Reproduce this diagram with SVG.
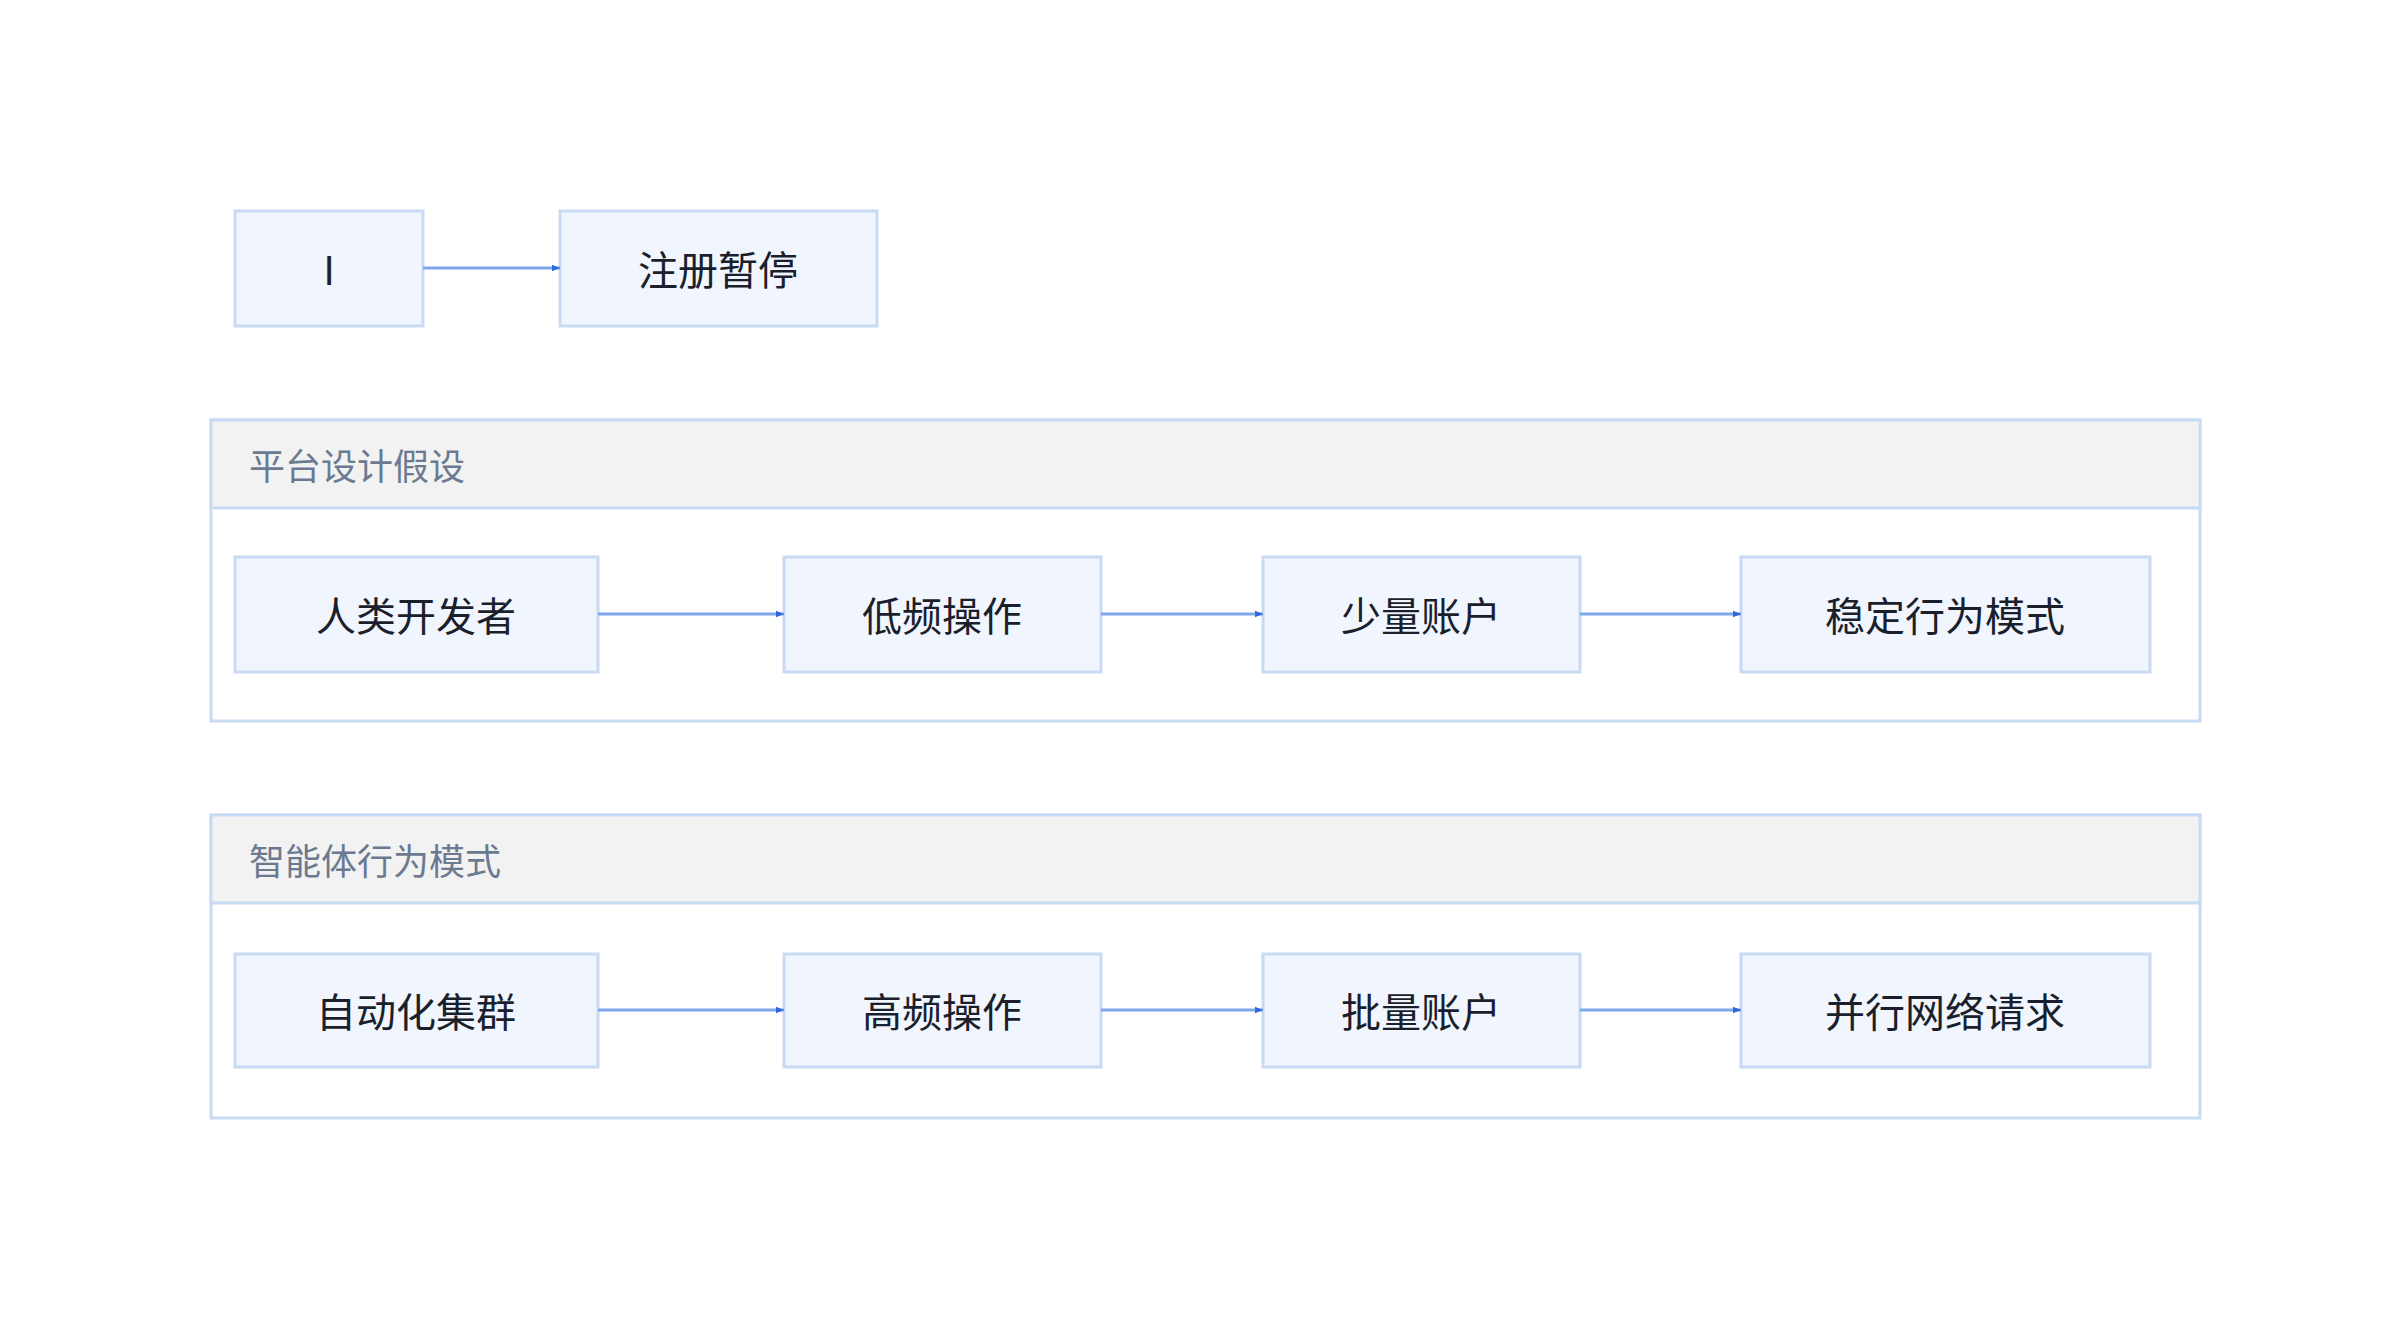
<svg xmlns="http://www.w3.org/2000/svg" width="2400" height="1324" viewBox="0 0 2400 1324">
<style>
.n{fill:#f0f5fe;stroke:#c9daf5;stroke-width:3}
.c{fill:#fff;stroke:#c9daf5;stroke-width:3}
.h{fill:#f2f2f2;stroke:#c9daf5;stroke-width:3}
.t{font-family:"Noto Sans CJK SC","Noto Sans",sans-serif;font-size:40px;fill:#1a1f2b;text-anchor:middle;dominant-baseline:central}
.ht{font-family:"Noto Sans CJK SC","Noto Sans",sans-serif;font-size:36px;fill:#6b7a90;dominant-baseline:central}
.e{stroke:#7ea6ee;stroke-width:3;fill:none;marker-end:url(#a)}
</style>
<defs><marker id="a" viewBox="0 0 10 10" refX="10" refY="5" markerWidth="8" markerHeight="8" markerUnits="userSpaceOnUse" orient="auto"><path d="M0,1 L10,5 L0,9 z" fill="#2d68dc"/></marker></defs>
<defs><marker id="b" viewBox="0 0 10 10" refX="10" refY="5" markerWidth="7" markerHeight="6" orient="auto"><path d="M0,0 L10,5 L0,10 z" fill="#2d68dc"/></marker></defs>
<g id="cluster1"><rect class="c" x="211" y="420" width="1989" height="301"/><rect class="h" x="211" y="420" width="1989" height="88"/><text class="ht" x="249" y="464">平台设计假设</text></g>
<g id="cluster2"><rect class="c" x="211" y="815" width="1989" height="303"/><rect class="h" x="211" y="815" width="1989" height="88"/><text class="ht" x="249" y="859">智能体行为模式</text></g>
<g id="nI"><rect class="n" x="235" y="211" width="188" height="115"/><text class="t" x="329" y="268">I</text></g>
<g id="nPause"><rect class="n" x="560" y="211" width="317" height="115"/><text class="t" x="718" y="268">注册暂停</text></g>
<g id="n1"><rect class="n" x="235" y="557" width="363" height="115"/><text class="t" x="416" y="614">人类开发者</text></g>
<g id="n2"><rect class="n" x="784" y="557" width="317" height="115"/><text class="t" x="942" y="614">低频操作</text></g>
<g id="n3"><rect class="n" x="1263" y="557" width="317" height="115"/><text class="t" x="1421" y="614">少量账户</text></g>
<g id="n4"><rect class="n" x="1741" y="557" width="409" height="115"/><text class="t" x="1945" y="614">稳定行为模式</text></g>
<g id="m1"><rect class="n" x="235" y="954" width="363" height="113"/><text class="t" x="416" y="1010">自动化集群</text></g>
<g id="m2"><rect class="n" x="784" y="954" width="317" height="113"/><text class="t" x="942" y="1010">高频操作</text></g>
<g id="m3"><rect class="n" x="1263" y="954" width="317" height="113"/><text class="t" x="1421" y="1010">批量账户</text></g>
<g id="m4"><rect class="n" x="1741" y="954" width="409" height="113"/><text class="t" x="1945" y="1010">并行网络请求</text></g>
<g id="edges">
<path class="e" d="M423,268 H560"/>
<path class="e" d="M598,614 H784"/>
<path class="e" d="M1101,614 H1263"/>
<path class="e" d="M1580,614 H1741"/>
<path class="e" d="M598,1010 H784"/>
<path class="e" d="M1101,1010 H1263"/>
<path class="e" d="M1580,1010 H1741"/>
</g>
</svg>
